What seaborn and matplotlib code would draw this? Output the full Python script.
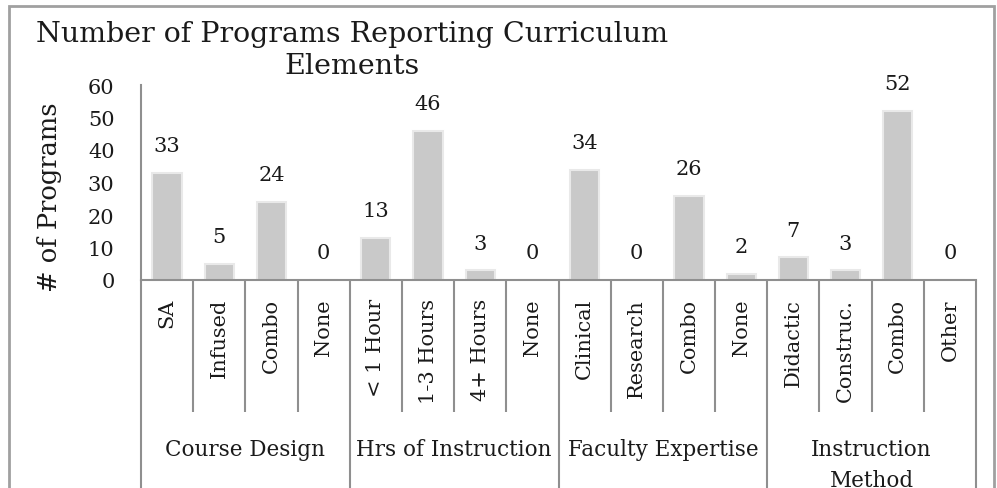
import numpy as np
import pandas as pd
import matplotlib
matplotlib.use("Agg")
import matplotlib.pyplot as plt
import matplotlib.transforms as mtransforms
from matplotlib.patches import Rectangle
import seaborn as sns

# chart data
groups = ["Course Design", "Hrs of Instruction", "Faculty Expertise", "Instruction\nMethod"]
course_design = ["SA", "Infused", "Combo", "None"]
hrs_instruction = ["< 1 Hour", "1-3 Hours", "4+ Hours", "None"]
faculty_expertise = ["Clinical", "Research", "Combo", "None"]
instruction_method = ["Didactic", "Construc.", "Combo", "Other"]
course_design_vals = [33, 5, 24, 0]
hrs_instruction_vals = [13, 46, 3, 0]
faculty_expertise_vals = [34, 0, 26, 2]
instruction_method_vals = [7, 3, 52, 0]

sub_labels = course_design + hrs_instruction + faculty_expertise + instruction_method
values = course_design_vals + hrs_instruction_vals + faculty_expertise_vals + instruction_method_vals
group_sizes = [len(course_design), len(hrs_instruction), len(faculty_expertise), len(instruction_method)]

df = pd.DataFrame({"pos": np.arange(len(values)), "label": sub_labels, "n": values})

sns.set_style("white")
plt.rcParams["font.family"] = ["DejaVu Serif"]

W, H = 997, 489
fig = plt.figure(figsize=(W / 100, H / 100), dpi=100)
# axes box in pixels: x 141..976, y(0)=281, y(60)=86
ax = fig.add_axes([141 / W, (H - 281) / H, (976 - 141) / W, (281 - 86) / H])

line_col = "#8f8f8f"
txt_col = "#1a1a1a"

sns.barplot(data=df, x="pos", y="n", ax=ax, color="#c9c9c9", saturation=1,
            width=0.56, edgecolor="#e9e9e9", linewidth=1.5)

ax.set_ylim(0, 60)
ax.set_xlim(-0.5, len(values) - 0.5)
ax.set_yticks(range(0, 61, 10))
ax.tick_params(axis="y", length=0, pad=19, labelsize=15, labelcolor=txt_col)
ax.set_xticks(df["pos"])
ax.set_xticklabels(df["label"], rotation=90, fontsize=15, color=txt_col, va="top")
ax.tick_params(axis="x", length=0, pad=13)
ax.set_xlabel("")
ax.set_ylabel("# of Programs", fontsize=18.5, color=txt_col)
ax.yaxis.set_label_coords(-0.095, 0.43)

for s in ["top", "right"]:
    ax.spines[s].set_visible(False)
for s in ["left", "bottom"]:
    ax.spines[s].set_color(line_col)
    ax.spines[s].set_linewidth(1.5)

# value labels
for p, v in zip(df["pos"], df["n"]):
    ax.annotate(str(v), (p, v), xytext=(0, 19.5), textcoords="offset points",
                ha="center", va="center", fontsize=15, color=txt_col)

# category table lines below the axis
trans = mtransforms.blended_transform_factory(ax.transData, ax.transAxes)
ax_h = 281 - 86
y_sub = (281 - 413) / ax_h
y_bot = (281 - 495) / ax_h
bounds = np.cumsum([0] + group_sizes) - 0.5
for i in range(len(values) + 1):
    xb = i - 0.5
    yb = y_bot if xb in bounds else y_sub
    ax.plot([xb, xb], [0, yb], transform=trans, color=line_col, lw=1.5,
            clip_on=False, solid_capstyle="butt")

# group labels
y_grp = (281 - 439) / ax_h
for g, a, b in zip(groups, bounds[:-1], bounds[1:]):
    ax.text((a + b) / 2, y_grp, g, transform=trans, ha="center", va="top",
            fontsize=15.5, color=txt_col, linespacing=1.55, clip_on=False)

# title
fig.text(352 / W, 1 - 21 / H, "Number of Programs Reporting Curriculum\nElements",
         ha="center", va="top", fontsize=20.5, color=txt_col, linespacing=1.25)

# outer frame
fig.patches.append(Rectangle((9 / W, -0.05), (994 - 9) / W, 1.05 - 7 / H,
                             transform=fig.transFigure, fill=False,
                             edgecolor="#a0a0a0", lw=2))

fig.savefig("out.png", dpi=100)
